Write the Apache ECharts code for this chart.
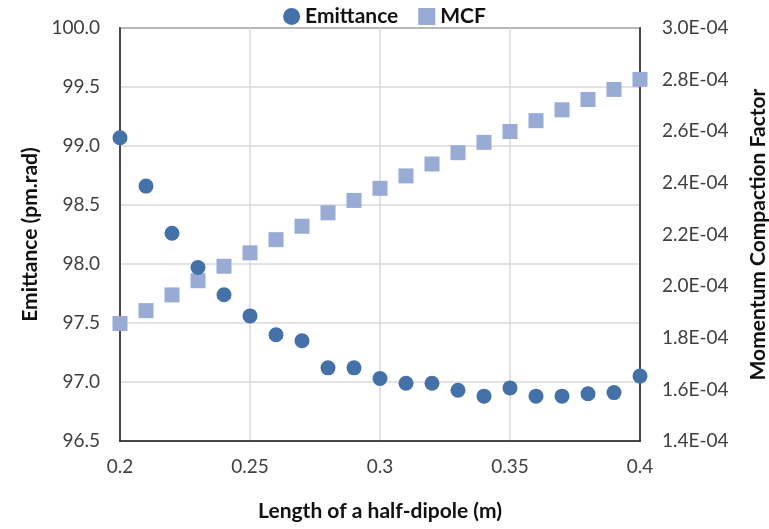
<!DOCTYPE html>
<html>
<head>
<meta charset="utf-8">
<script src="https://cdn.jsdelivr.net/npm/echarts@6/dist/echarts.min.js"></script>
<style>html,body{margin:0;padding:0;background:#fff}#c{width:769px;height:529px}</style>
</head>
<body>
<div id="c"></div>
<script>
// Half-dipole length (m)
const lengths = [0.20,0.21,0.22,0.23,0.24,0.25,0.26,0.27,0.28,0.29,0.30,0.31,0.32,0.33,0.34,0.35,0.36,0.37,0.38,0.39,0.40];
// Emittance (pm.rad)
const emittance = [99.07,98.66,98.26,97.97,97.74,97.56,97.40,97.35,97.12,97.12,97.03,96.99,96.99,96.93,96.88,96.95,96.88,96.88,96.90,96.91,97.05];
// Momentum compaction factor, in units of 1E-04
const mcfE4 = [1.855,1.905,1.966,2.021,2.077,2.129,2.180,2.232,2.284,2.332,2.379,2.427,2.473,2.517,2.557,2.599,2.641,2.683,2.723,2.762,2.801];
const xTicks = ['0.2','0.25','0.3','0.35','0.4'];

const FONT = 'Lato';
const chart = echarts.init(document.getElementById('c'));
chart.setOption({
  animation: false,
  textStyle: {fontFamily: FONT},
  legend: {
    top: 1, left: 'center',
    itemGap: 20, itemWidth: 17, itemHeight: 17,
    textStyle: {fontFamily: FONT, fontWeight: 'bold', fontSize: 21, color: '#111'},
    data: [{name: 'Emittance', icon: 'circle'}, {name: 'MCF', icon: 'rect'}]
  },
  grid: {left: 120, right: 129, top: 28, bottom: 88, containLabel: false, outerBoundsMode: 'none',
         show: true, borderColor: '#222', borderWidth: 1.5},
  xAxis: {
    type: 'value', min: 0.2, max: 0.4, interval: 0.05,
    name: 'Length of a half-dipole (m)', nameLocation: 'middle', nameGap: 60,
    nameTextStyle: {fontFamily: FONT, fontWeight: 'bold', fontSize: 21, color: '#111'},
    axisLine: {show: true, lineStyle: {color: '#222', width: 1.5}},
    axisTick: {show: false},
    axisLabel: {fontSize: 19, color: '#404040', margin: 16, formatter: v => xTicks.find(t => Math.abs(parseFloat(t) - v) < 1e-9) || ''},
    splitLine: {show: true, lineStyle: {color: '#d9d9d9', width: 1.5}}
  },
  yAxis: [{
    type: 'value', min: 96.5, max: 100, interval: 0.5, position: 'left',
    name: 'Emittance (pm.rad)', nameLocation: 'middle', nameGap: 78,
    nameTextStyle: {fontFamily: FONT, fontWeight: 'bold', fontSize: 21, color: '#111'},
    axisLine: {show: true, lineStyle: {color: '#222', width: 1.5}},
    axisTick: {show: false},
    axisLabel: {fontSize: 19, color: '#404040', margin: 20, formatter: v => v.toFixed(1)},
    splitLine: {show: true, lineStyle: {color: '#d9d9d9', width: 1.5}}
  }, {
    type: 'value', min: 1.4, max: 3.0, interval: 0.2, position: 'right',
    name: 'Momentum Compaction Factor', nameLocation: 'middle', nameGap: 108, nameRotate: 90,
    nameTextStyle: {fontFamily: FONT, fontWeight: 'bold', fontSize: 21, color: '#111'},
    axisLine: {show: true, lineStyle: {color: '#222', width: 1.5}},
    axisTick: {show: false},
    axisLabel: {fontSize: 19, color: '#404040', margin: 22, formatter: v => v.toFixed(1) + 'E-04'},
    splitLine: {show: false}
  }],
  series: [{
    name: 'Emittance', type: 'scatter', yAxisIndex: 0,
    symbol: 'circle', symbolSize: 15,
    itemStyle: {color: '#4472A8', opacity: 1},
    data: lengths.map((x, i) => [x, emittance[i]]),
    z: 3
  }, {
    name: 'MCF', type: 'scatter', yAxisIndex: 1,
    symbol: 'rect', symbolSize: 15,
    itemStyle: {color: '#97ABD4', opacity: 1},
    data: lengths.map((x, i) => [x, mcfE4[i]]),
    z: 2
  }]
});
</script>
</body>
</html>
